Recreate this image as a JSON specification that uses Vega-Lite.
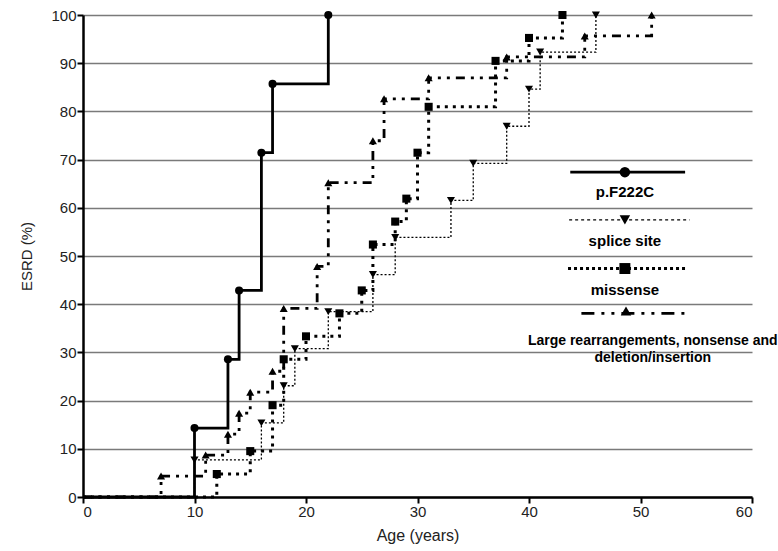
{
  "$schema": "https://vega.github.io/schema/vega-lite/v6.json",
  "width": 669,
  "height": 482,
  "autosize": "none",
  "padding": {"left": 83, "top": 15, "right": 26, "bottom": 54},
  "background": "white",
  "config": {
    "font": "Liberation Sans",
    "view": {"stroke": null},
    "axis": {"labelFont": "Liberation Sans", "titleFont": "Liberation Sans"},
    "text": {"font": "Liberation Sans"}
  },
  "datasets": {
    "curves": [
      {"series": "p.F222C", "age": 0, "esrd": 0},
      {"series": "p.F222C", "age": 10, "esrd": 14.29},
      {"series": "p.F222C", "age": 13, "esrd": 28.57},
      {"series": "p.F222C", "age": 14, "esrd": 42.86},
      {"series": "p.F222C", "age": 16, "esrd": 71.43},
      {"series": "p.F222C", "age": 17, "esrd": 85.71},
      {"series": "p.F222C", "age": 22, "esrd": 100},
      {"series": "splice site", "age": 0, "esrd": 0},
      {"series": "splice site", "age": 10, "esrd": 7.69},
      {"series": "splice site", "age": 16, "esrd": 15.38},
      {"series": "splice site", "age": 18, "esrd": 23.08},
      {"series": "splice site", "age": 19, "esrd": 30.77},
      {"series": "splice site", "age": 22, "esrd": 38.46},
      {"series": "splice site", "age": 26, "esrd": 46.15},
      {"series": "splice site", "age": 28, "esrd": 53.85},
      {"series": "splice site", "age": 33, "esrd": 61.54},
      {"series": "splice site", "age": 35, "esrd": 69.23},
      {"series": "splice site", "age": 38, "esrd": 76.92},
      {"series": "splice site", "age": 40, "esrd": 84.62},
      {"series": "splice site", "age": 41, "esrd": 92.31},
      {"series": "splice site", "age": 46, "esrd": 100},
      {"series": "missense", "age": 0, "esrd": 0},
      {"series": "missense", "age": 12, "esrd": 4.76},
      {"series": "missense", "age": 15, "esrd": 9.52},
      {"series": "missense", "age": 17, "esrd": 19.05},
      {"series": "missense", "age": 18, "esrd": 28.57},
      {"series": "missense", "age": 20, "esrd": 33.33},
      {"series": "missense", "age": 23, "esrd": 38.1},
      {"series": "missense", "age": 25, "esrd": 42.86},
      {"series": "missense", "age": 26, "esrd": 52.38},
      {"series": "missense", "age": 28, "esrd": 57.14},
      {"series": "missense", "age": 29, "esrd": 61.9},
      {"series": "missense", "age": 30, "esrd": 71.43},
      {"series": "missense", "age": 31, "esrd": 80.95},
      {"series": "missense", "age": 37, "esrd": 90.48},
      {"series": "missense", "age": 40, "esrd": 95.24},
      {"series": "missense", "age": 43, "esrd": 100},
      {"series": "Large rearrangements, nonsense and deletion/insertion", "age": 0, "esrd": 0},
      {"series": "Large rearrangements, nonsense and deletion/insertion", "age": 7, "esrd": 4.35},
      {"series": "Large rearrangements, nonsense and deletion/insertion", "age": 11, "esrd": 8.7},
      {"series": "Large rearrangements, nonsense and deletion/insertion", "age": 13, "esrd": 13.04},
      {"series": "Large rearrangements, nonsense and deletion/insertion", "age": 14, "esrd": 17.39},
      {"series": "Large rearrangements, nonsense and deletion/insertion", "age": 15, "esrd": 21.74},
      {"series": "Large rearrangements, nonsense and deletion/insertion", "age": 17, "esrd": 26.09},
      {"series": "Large rearrangements, nonsense and deletion/insertion", "age": 18, "esrd": 39.13},
      {"series": "Large rearrangements, nonsense and deletion/insertion", "age": 21, "esrd": 47.83},
      {"series": "Large rearrangements, nonsense and deletion/insertion", "age": 22, "esrd": 65.22},
      {"series": "Large rearrangements, nonsense and deletion/insertion", "age": 26, "esrd": 73.91},
      {"series": "Large rearrangements, nonsense and deletion/insertion", "age": 27, "esrd": 82.61},
      {"series": "Large rearrangements, nonsense and deletion/insertion", "age": 31, "esrd": 86.96},
      {"series": "Large rearrangements, nonsense and deletion/insertion", "age": 38, "esrd": 91.3},
      {"series": "Large rearrangements, nonsense and deletion/insertion", "age": 45, "esrd": 95.65},
      {"series": "Large rearrangements, nonsense and deletion/insertion", "age": 51, "esrd": 100}
    ],
    "legend": [
      {"series": "p.F222C"},
      {"series": "splice site"},
      {"series": "missense"},
      {"series": "Large rearrangements, nonsense and deletion/insertion"}
    ]
  },
  "layer": [
    {
      "data": {"name": "curves"},
      "encoding": {
        "x": {
          "field": "age",
          "type": "quantitative",
          "scale": {"domain": [0, 60], "nice": false, "zero": true},
          "axis": {
            "values": [0, 10, 20, 30, 40, 50, 60],
            "title": "Age (years)",
            "grid": false,
            "domainColor": "black",
            "domainWidth": 2.5,
            "tickColor": "black",
            "tickWidth": 2,
            "tickSize": 6,
            "labelFontSize": 15,
            "labelColor": "#222",
            "labelPadding": 1,
            "titleFontSize": 16,
            "titleFontWeight": "normal",
            "titleColor": "#222",
            "titlePadding": 8
          }
        },
        "y": {
          "field": "esrd",
          "type": "quantitative",
          "scale": {"domain": [0, 100], "nice": false},
          "axis": {
            "values": [0, 10, 20, 30, 40, 50, 60, 70, 80, 90, 100],
            "title": "ESRD (%)",
            "grid": true,
            "gridColor": "#7a7a7a",
            "gridWidth": 1.6,
            "domainColor": "black",
            "domainWidth": 2.5,
            "tickColor": "black",
            "tickWidth": 2,
            "tickSize": 6,
            "labelFontSize": 15,
            "labelColor": "#222",
            "labelPadding": 1,
            "titleFontSize": 15,
            "titleFontWeight": "normal",
            "titleColor": "#222",
            "titlePadding": 16
          }
        }
      },
      "layer": [
        {
          "transform": [{"filter": "datum.series === 'splice site'"}],
          "mark": {"type": "line", "interpolate": "step-after", "color": "black", "strokeWidth": 1.3, "strokeDash": [2, 2]}
        },
        {
          "transform": [{"filter": "datum.series === 'missense'"}],
          "mark": {"type": "line", "interpolate": "step-after", "color": "black", "strokeWidth": 3, "strokeDash": [3, 5]}
        },
        {
          "transform": [{"filter": "datum.series === 'Large rearrangements, nonsense and deletion/insertion'"}],
          "mark": {"type": "line", "interpolate": "step-after", "color": "black", "strokeWidth": 2.8, "strokeDash": [9, 6, 3, 6, 3, 6]}
        },
        {
          "transform": [{"filter": "datum.series === 'p.F222C'"}],
          "mark": {"type": "line", "interpolate": "step-after", "color": "black", "strokeWidth": 2.8}
        },
        {
          "transform": [{"filter": "datum.esrd > 0"}],
          "mark": {"type": "point", "filled": true, "color": "black", "size": 65, "opacity": 1},
          "encoding": {
            "shape": {
              "field": "series",
              "type": "nominal",
              "scale": {
                "domain": ["p.F222C", "splice site", "missense", "Large rearrangements, nonsense and deletion/insertion"],
                "range": ["circle", "triangle-down", "square", "triangle-up"]
              },
              "legend": null
            }
          }
        }
      ]
    },
    {
      "data": {"name": "legend"},
      "transform": [{"filter": "datum.series === 'p.F222C'"}],
      "layer": [
        {
          "mark": {"type": "rule", "color": "black", "strokeWidth": 2.8},
          "encoding": {"x": {"datum": 43.7}, "x2": {"datum": 54.0}, "y": {"datum": 67.4}}
        },
        {
          "mark": {"type": "point", "shape": "circle", "filled": true, "color": "black", "size": 110, "opacity": 1},
          "encoding": {"x": {"datum": 48.6}, "y": {"datum": 67.4}}
        },
        {
          "mark": {"type": "text", "fontSize": 15, "fontWeight": "bold", "align": "center", "baseline": "middle", "color": "black"},
          "encoding": {"x": {"datum": 48.6}, "y": {"datum": 63.3}, "text": {"field": "series"}}
        }
      ]
    },
    {
      "data": {"name": "legend"},
      "transform": [{"filter": "datum.series === 'splice site'"}],
      "layer": [
        {
          "mark": {"type": "rule", "color": "black", "strokeWidth": 1.3, "strokeDash": [3, 3]},
          "encoding": {"x": {"datum": 43.6}, "x2": {"datum": 54.4}, "y": {"datum": 57.5}}
        },
        {
          "mark": {"type": "point", "shape": "triangle-down", "filled": true, "color": "black", "size": 110, "opacity": 1},
          "encoding": {"x": {"datum": 48.6}, "y": {"datum": 57.5}}
        },
        {
          "mark": {"type": "text", "fontSize": 15, "fontWeight": "bold", "align": "center", "baseline": "middle", "color": "black"},
          "encoding": {"x": {"datum": 48.6}, "y": {"datum": 53.2}, "text": {"field": "series"}}
        }
      ]
    },
    {
      "data": {"name": "legend"},
      "transform": [{"filter": "datum.series === 'missense'"}],
      "layer": [
        {
          "mark": {"type": "rule", "color": "black", "strokeWidth": 3, "strokeDash": [3, 3]},
          "encoding": {"x": {"datum": 43.5}, "x2": {"datum": 54.0}, "y": {"datum": 47.4}}
        },
        {
          "mark": {"type": "point", "shape": "square", "filled": true, "color": "black", "size": 120, "opacity": 1},
          "encoding": {"x": {"datum": 48.6}, "y": {"datum": 47.4}}
        },
        {
          "mark": {"type": "text", "fontSize": 15, "fontWeight": "bold", "align": "center", "baseline": "middle", "color": "black"},
          "encoding": {"x": {"datum": 48.6}, "y": {"datum": 42.9}, "text": {"field": "series"}}
        }
      ]
    },
    {
      "data": {"name": "legend"},
      "transform": [{"filter": "datum.series === 'Large rearrangements, nonsense and deletion/insertion'"}],
      "layer": [
        {
          "mark": {"type": "rule", "color": "black", "strokeWidth": 2.8, "strokeDash": [13, 7, 3, 7, 3, 7]},
          "encoding": {"x": {"datum": 44.7}, "x2": {"datum": 54.0}, "y": {"datum": 38.1}}
        },
        {
          "mark": {"type": "point", "shape": "triangle-up", "filled": true, "color": "black", "size": 110, "opacity": 1},
          "encoding": {"x": {"datum": 48.7}, "y": {"datum": 38.6}}
        },
        {
          "mark": {"type": "text", "text": ["Large rearrangements, nonsense and", "deletion/insertion"], "lineHeight": 17, "fontSize": 14, "fontWeight": "bold", "align": "center", "baseline": "middle", "color": "black"},
          "encoding": {"x": {"datum": 51.1}, "y": {"datum": 32.3}}
        }
      ]
    }
  ]
}
